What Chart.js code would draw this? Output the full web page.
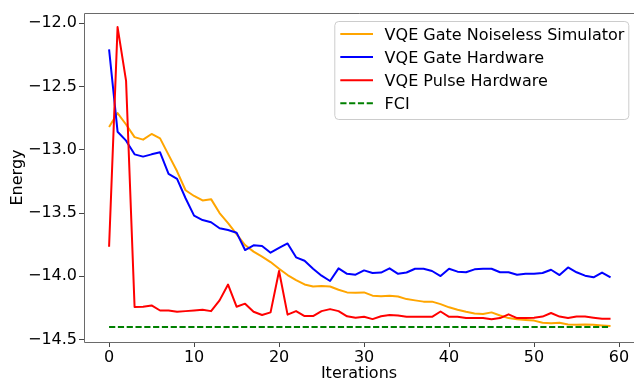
<!DOCTYPE html>
<html>
<head>
<meta charset="utf-8">
<script src="https://cdn.jsdelivr.net/npm/chart.js@4.4.1/dist/chart.umd.min.js"></script>
<style>
    html, body { margin: 0; padding: 0; background: #fff; overflow: hidden; }
</style>
</head>
<body>
<canvas id="energyChart" width="634" height="383"></canvas>
<script>
const iterations = [
    0, 1, 2, 3, 4, 5, 6, 7, 8, 9, 10, 11, 12, 13, 14, 15, 16, 17, 18, 19,
    20, 21, 22, 23, 24, 25, 26, 27, 28, 29, 30, 31, 32, 33, 34, 35, 36, 37, 38, 39,
    40, 41, 42, 43, 44, 45, 46, 47, 48, 49, 50, 51, 52, 53, 54, 55, 56, 57, 58, 59
];

// VQE Gate Noiseless Simulator
const gateSimulator = [
    -12.82, -12.71, -12.80, -12.90, -12.92, -12.875, -12.91, -13.04, -13.17, -13.32,
    -13.365, -13.40, -13.39, -13.50, -13.58, -13.666, -13.753, -13.805, -13.845, -13.887,
    -13.94, -13.99, -14.03, -14.064, -14.08, -14.077, -14.08, -14.106, -14.127, -14.13,
    -14.127, -14.153, -14.158, -14.153, -14.16, -14.18, -14.19, -14.20, -14.20, -14.22,
    -14.245, -14.264, -14.28, -14.293, -14.298, -14.285, -14.31, -14.33, -14.34, -14.345,
    -14.35, -14.367, -14.37, -14.367, -14.38, -14.383, -14.38, -14.383, -14.388, -14.393
];

// VQE Gate Hardware
const gateHardware = [
    -12.206, -12.857, -12.928, -13.036, -13.054, -13.036, -13.02, -13.19, -13.23, -13.383,
    -13.52, -13.555, -13.573, -13.62, -13.634, -13.655, -13.792, -13.755, -13.76, -13.813,
    -13.776, -13.74, -13.85, -13.877, -13.94, -13.995, -14.037, -13.937, -13.98, -13.987,
    -13.953, -13.974, -13.97, -13.937, -13.98, -13.97, -13.94, -13.94, -13.958, -13.998,
    -13.94, -13.963, -13.968, -13.945, -13.94, -13.94, -13.968, -13.968, -13.987, -13.98,
    -13.98, -13.974, -13.948, -13.99, -13.93, -13.968, -13.995, -14.008, -13.97, -14.008
];

// VQE Pulse Hardware
const pulseHardware = [
    -13.766, -12.03, -12.456, -14.243, -14.24, -14.23, -14.27, -14.27, -14.28, -14.275,
    -14.27, -14.264, -14.275, -14.19, -14.065, -14.24, -14.216, -14.28, -14.306, -14.285,
    -13.958, -14.303, -14.275, -14.314, -14.314, -14.275, -14.259, -14.275, -14.316, -14.327,
    -14.32, -14.338, -14.316, -14.306, -14.31, -14.32, -14.32, -14.32, -14.32, -14.278,
    -14.32, -14.32, -14.33, -14.33, -14.33, -14.34, -14.33, -14.30, -14.33, -14.33,
    -14.327, -14.318, -14.29, -14.318, -14.33, -14.318, -14.318, -14.327, -14.335, -14.335
];

const fciEnergy = -14.40;

const xTicks = [0, 10, 20, 30, 40, 50, 60];
const yTicks = [-14.5, -14.0, -13.5, -13.0, -12.5, -12.0];

const FONT = 'DejaVu Sans';

function toPoints(values) {
    return iterations.map((it, i) => ({ x: it, y: values[i] }));
}

// axes frame (left, top, bottom) like the matplotlib spines
const framePlugin = {
    id: 'frame',
    afterDatasetsDraw(chart) {
        const { ctx, chartArea: a } = chart;
        const l = Math.round(a.left) + 0.5, t = Math.round(a.top) + 0.5, b = Math.round(a.bottom) + 0.5;
        ctx.save();
        ctx.strokeStyle = '#6a6a6a';
        ctx.lineWidth = 1;
        ctx.beginPath();
        ctx.moveTo(a.right, t);
        ctx.lineTo(l, t);
        ctx.lineTo(l, b);
        ctx.lineTo(a.right, b);
        ctx.stroke();
        ctx.restore();
    }
};

// legend box in the upper right corner
const boxLegend = {
    id: 'boxLegend',
    afterDraw(chart) {
        const { ctx, chartArea: a } = chart;
        const w = 294, h = 98;
        const x0 = a.right - 5.7 - w, y0 = a.top + 8;
        ctx.save();
        ctx.beginPath();
        ctx.roundRect(x0 + 0.5, y0 + 0.5, w, h, 4);
        ctx.fillStyle = 'rgba(255,255,255,0.8)';
        ctx.fill();
        ctx.strokeStyle = '#cccccc';
        ctx.lineWidth = 1;
        ctx.stroke();

        ctx.font = '16px ' + FONT;
        ctx.fillStyle = '#000';
        ctx.textBaseline = 'alphabetic';
        chart.data.datasets.forEach((ds, i) => {
            const cy = y0 + 13 + i * 23.1;
            ctx.beginPath();
            ctx.setLineDash(ds.borderDash || []);
            ctx.strokeStyle = ds.borderColor;
            ctx.lineWidth = 2;
            ctx.moveTo(x0 + 6, cy);
            ctx.lineTo(x0 + 38.7, cy);
            ctx.stroke();
            ctx.setLineDash([]);
            ctx.fillText(ds.label, x0 + 50.3, cy + 5.8);
        });
        ctx.restore();
    }
};

const tickFont = { family: FONT, size: 16 };

new Chart(document.getElementById('energyChart').getContext('2d'), {
    type: 'line',
    data: {
        datasets: [
            { label: 'VQE Gate Noiseless Simulator', data: toPoints(gateSimulator), borderColor: 'orange', order: 4 },
            { label: 'VQE Gate Hardware', data: toPoints(gateHardware), borderColor: 'blue', order: 3 },
            { label: 'VQE Pulse Hardware', data: toPoints(pulseHardware), borderColor: 'red', order: 2 },
            {
                label: 'FCI',
                data: [{ x: iterations[0], y: fciEnergy }, { x: iterations[iterations.length - 1], y: fciEnergy }],
                borderColor: 'green', borderDash: [6.2, 2.6], order: 1
            }
        ]
    },
    options: {
        responsive: false,
        devicePixelRatio: 1,
        animation: false,
        layout: { padding: { top: 13, right: 0, bottom: 0, left: 0 } },
        elements: {
            line: { borderWidth: 2, tension: 0, fill: false, borderJoinStyle: 'round' },
            point: { radius: 0, hoverRadius: 0 }
        },
        plugins: { legend: { display: false }, tooltip: { enabled: false } },
        scales: {
            x: {
                type: 'linear',
                min: -2.95,
                max: 61.76,
                afterBuildTicks: s => { s.ticks = xTicks.map(v => ({ value: v })); },
                afterFit: s => { s.height = 41; s.paddingLeft = 0; s.paddingRight = 0; },
                grid: { display: true, drawOnChartArea: false, drawTicks: true, tickLength: 5, color: '#444' },
                border: { display: false },
                ticks: { color: '#000', font: tickFont, padding: 1, maxRotation: 0, autoSkip: false,
                         callback: v => String(v) },
                title: { display: true, text: 'Iterations', color: '#000', font: tickFont, padding: { top: 0, bottom: 0 } }
            },
            y: {
                type: 'linear',
                min: -14.519,
                max: -11.919,
                afterBuildTicks: s => { s.ticks = yTicks.map(v => ({ value: v })); },
                afterFit: s => { s.width = 84; s.paddingTop = 0; s.paddingBottom = 0; },
                grid: { display: true, drawOnChartArea: false, drawTicks: true, tickLength: 5, color: '#444' },
                border: { display: false },
                ticks: { color: '#000', font: tickFont, padding: 2, autoSkip: false,
                         callback: v => (v < 0 ? '\u2212' : '') + Math.abs(v).toFixed(1) },
                title: { display: true, text: 'Energy', color: '#000', font: tickFont, padding: { top: 8, bottom: 0 } }
            }
        }
    },
    plugins: [framePlugin, boxLegend]
});
</script>
</body>
</html>
